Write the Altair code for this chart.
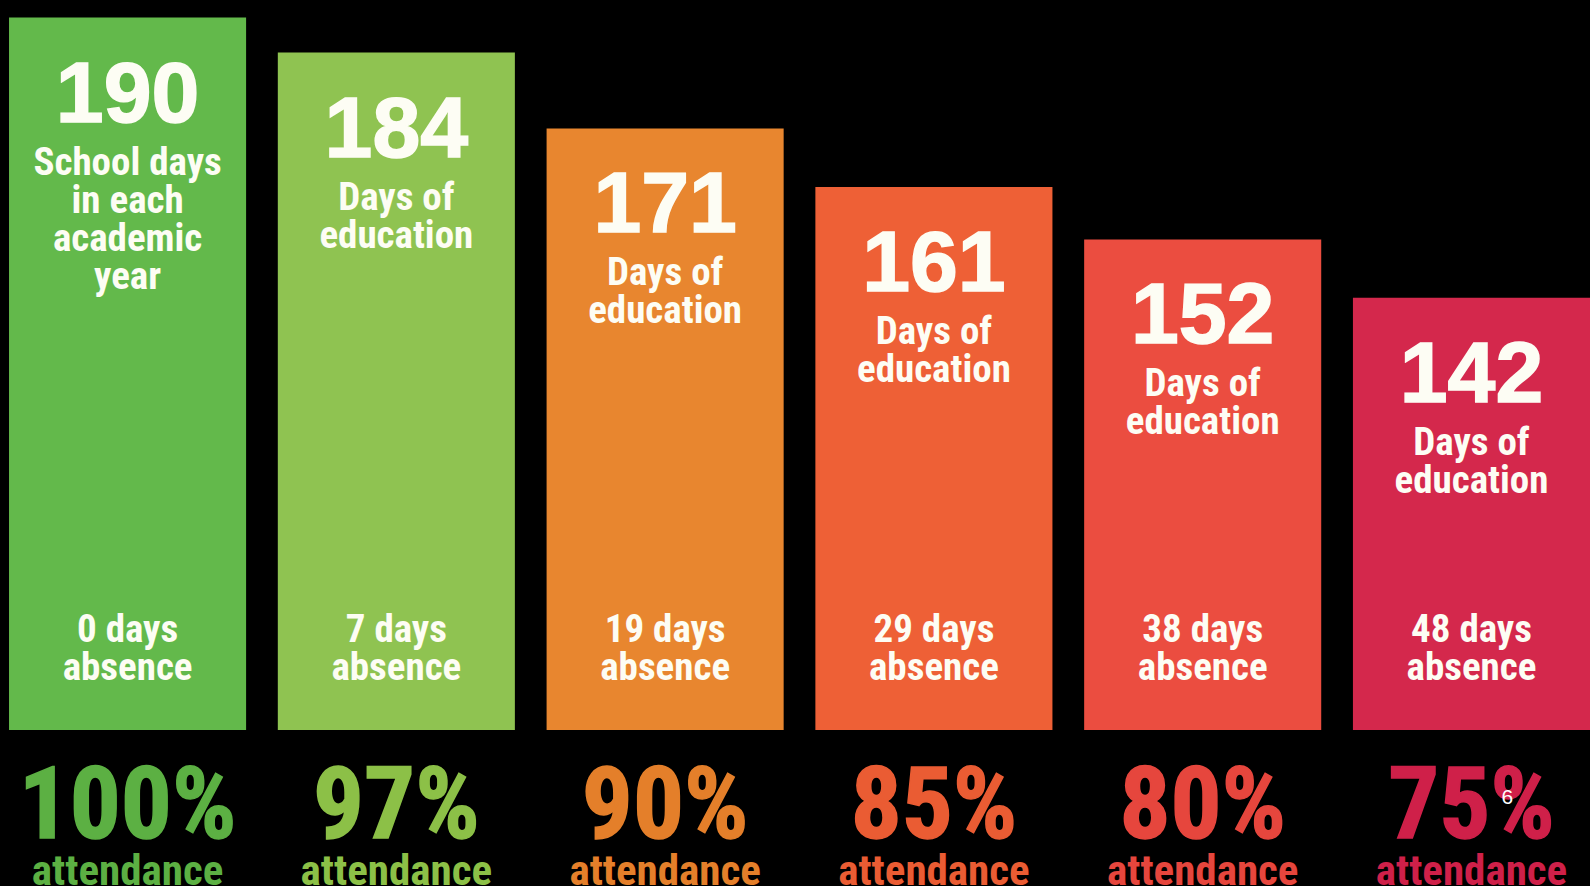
import altair as alt
import pandas as pd

# ---- data ----
groups = ["100%", "97%", "90%", "85%", "80%", "75%"]
school_days = [190, 184, 171, 161, 152, 142]
absence_days = [0, 7, 19, 29, 38, 48]
attendance_pct = [100, 97, 90, 85, 80, 75]
captions = [
    "School days\nin each\nacademic\nyear",
    "Days of\neducation",
    "Days of\neducation",
    "Days of\neducation",
    "Days of\neducation",
    "Days of\neducation",
]
footnote = ["6"]

# ---- styles ----
bar_colors = ["#63b94b", "#8fc351", "#e8862f", "#ee6036", "#eb4d40", "#d4284c"]
pct_colors = ["#5cb043", "#8cc047", "#e47f2a", "#ea5c33", "#e6463d", "#cf2049"]
WHITE = "#fdfdf4"
NARROW = "Roboto Condensed, Roboto, sans-serif"
WIDE = "Liberation Sans, Arial, sans-serif"

df = pd.DataFrame({
    "group": groups,
    "days": school_days,
    "caption": captions,
    "absence": [f"{d} days\nabsence" for d in absence_days],
    "pct": [f"{p}%" for p in attendance_pct],
    "att": ["attendance"] * len(groups),
    "pct_color": pct_colors,
})
note_df = pd.DataFrame({"group": [groups[-1]], "note": footnote})

BASE = 68
x = alt.X("group:N", sort=groups, axis=None,
          scale=alt.Scale(paddingInner=0.118, paddingOuter=0.0168, align=1))
y_scale = alt.Scale(domain=[BASE, 193], zero=False, nice=False)

base = alt.Chart(df)

bars = base.mark_bar(cornerRadius=0).encode(
    x=x,
    y=alt.Y("days:Q", scale=y_scale, axis=None),
    y2=alt.datum(BASE),
    color=alt.Color("group:N", sort=groups,
                    scale=alt.Scale(domain=groups, range=bar_colors), legend=None),
)

numbers = base.mark_text(font=WIDE, fontWeight="bold", fontSize=86,
                         baseline="alphabetic", dy=104, color=WHITE,
                         stroke=WHITE, strokeWidth=1.5).encode(
    x=x, y=alt.Y("days:Q", scale=y_scale), text="days:Q")

caption_txt = base.mark_text(font=NARROW, fontWeight="bold", fontSize=39,
                             lineBreak="\n", lineHeight=38,
                             baseline="alphabetic", dy=157, color=WHITE).encode(
    x=x, y=alt.Y("days:Q", scale=y_scale), text="caption:N")

absence_txt = base.mark_text(font=NARROW, fontWeight="bold", fontSize=39,
                             lineBreak="\n", lineHeight=38,
                             baseline="alphabetic", dy=-88, color=WHITE).encode(
    x=x, y=alt.datum(BASE), text="absence:N")

pct_txt = base.mark_text(font=NARROW, fontWeight="bold", fontSize=101,
                         baseline="alphabetic", dy=108, strokeWidth=1.5).encode(
    x=x, y=alt.datum(BASE), text="pct:N",
    color=alt.Color("pct_color:N", scale=None),
    stroke=alt.Stroke("pct_color:N", scale=None))

att_txt = base.mark_text(font=NARROW, fontWeight="bold", fontSize=43,
                         baseline="alphabetic", dy=155).encode(
    x=x, y=alt.datum(BASE), text="att:N",
    color=alt.Color("pct_color:N", scale=None))

note_txt = alt.Chart(note_df).mark_text(font=WIDE, fontSize=21, dx=36, dy=68,
                                        baseline="middle", color="#ffffff").encode(
    x=x, y=alt.datum(BASE), text="note:N")

chart = alt.layer(bars, numbers, caption_txt, absence_txt, pct_txt, att_txt, note_txt).properties(
    width=1590, height=730,
    background="#000000",
    padding={"left": 0, "right": 0, "top": 0, "bottom": 156},
    autosize=alt.AutoSizeParams(type="none"),
).configure_view(stroke=None)

chart.save("out.html", embed_options={"renderer": "svg", "actions": False})
